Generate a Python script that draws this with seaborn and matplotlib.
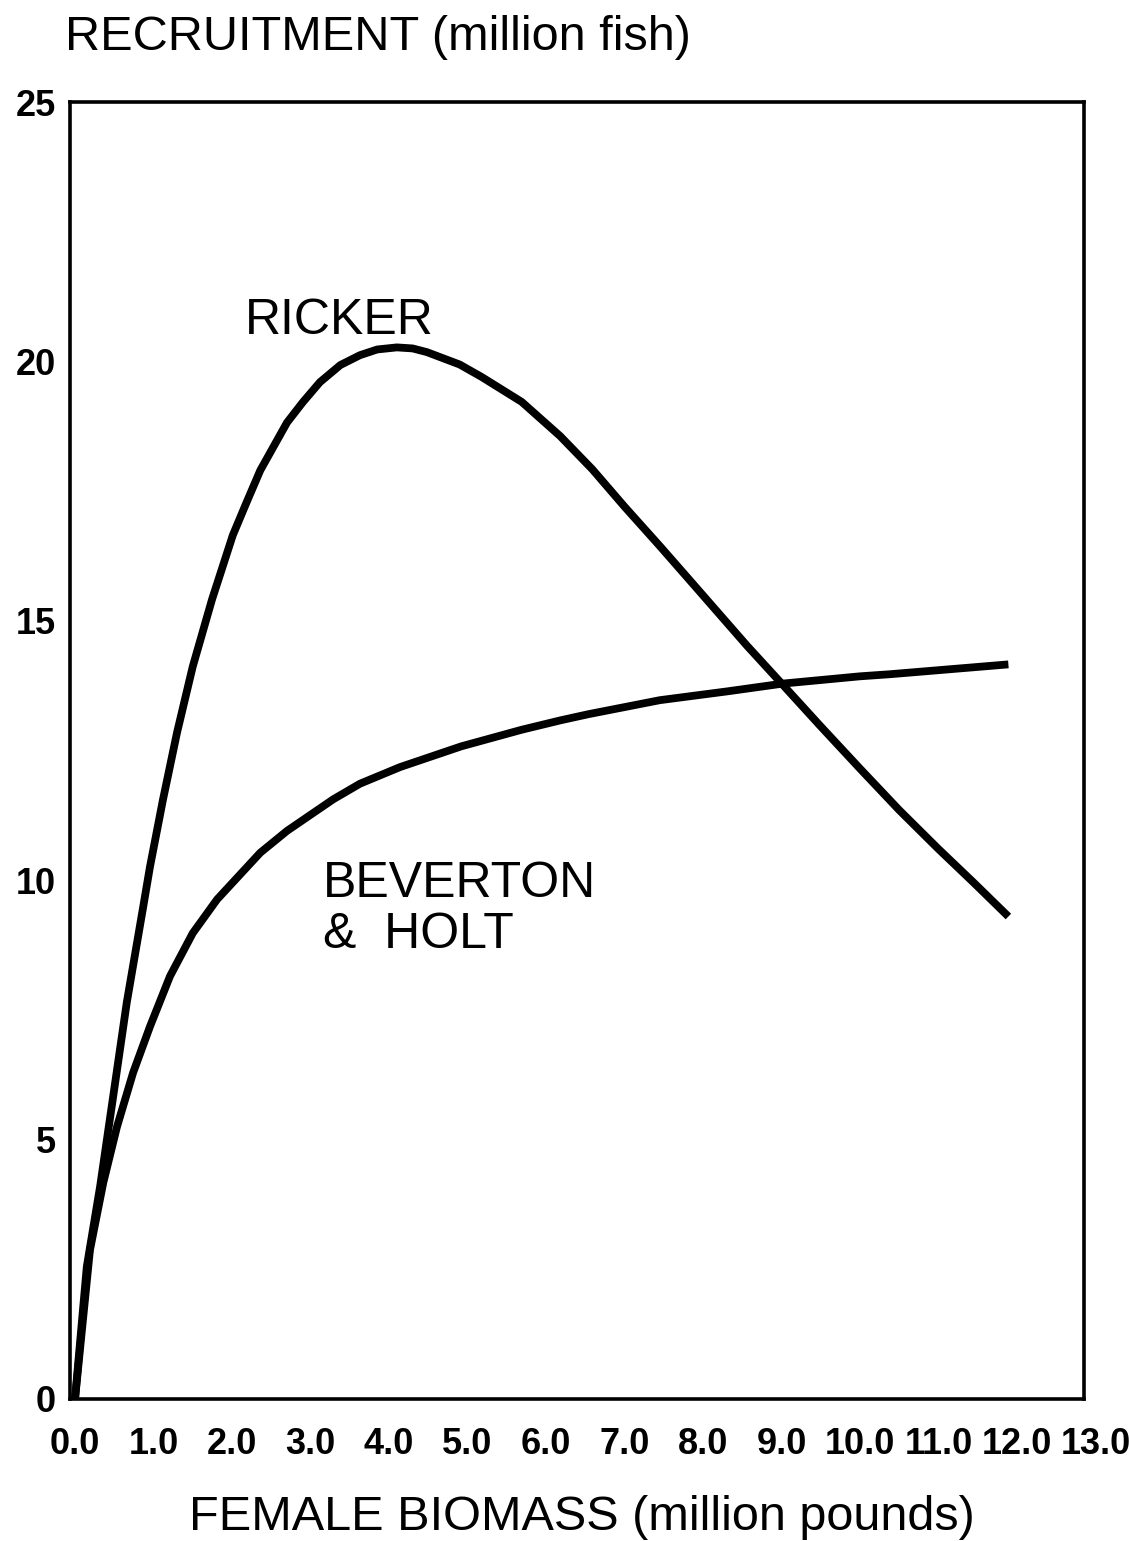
import matplotlib
matplotlib.use("Agg")
import matplotlib.pyplot as plt
import matplotlib.transforms as mtransforms
import seaborn as sns
import pandas as pd

# ---- data ----
ricker_x = [0.00, 0.15, 0.32, 0.48, 0.66, 0.87, 0.955, 1.12, 1.30, 1.50, 1.745, 2.01,
            2.19, 2.36, 2.70, 2.90, 3.12, 3.38, 3.63, 3.85, 4.10, 4.30, 4.48, 4.90,
            5.18, 5.69, 6.18, 6.59, 7.00, 7.45, 7.89, 8.30, 8.56, 9.02, 9.49, 10.00,
            10.50, 11.00, 11.45, 11.89]
ricker_y = [0.00, 2.55, 4.10, 5.77, 7.65, 9.50, 10.26, 11.55, 12.85, 14.12, 15.41, 16.65,
            17.30, 17.90, 18.82, 19.21, 19.60, 19.93, 20.12, 20.23, 20.27, 20.25, 20.18, 19.94,
            19.70, 19.22, 18.56, 17.92, 17.20, 16.44, 15.68, 14.97, 14.52, 13.76, 12.98, 12.15,
            11.35, 10.60, 9.95, 9.30]

bh_x = [0.00, 0.19, 0.36, 0.535, 0.74, 0.955, 1.21, 1.50, 1.81, 2.36, 2.70, 2.99,
        3.29, 3.63, 4.14, 4.92, 5.69, 6.18, 6.54, 7.45, 8.31, 9.02, 10.00, 10.38, 11.89]
bh_y = [0.00, 2.87, 4.17, 5.25, 6.29, 7.18, 8.15, 8.98, 9.63, 10.53, 10.95, 11.25,
        11.56, 11.86, 12.18, 12.58, 12.90, 13.08, 13.20, 13.47, 13.64, 13.79, 13.93, 13.97, 14.16]

x_ticks = [0, 1, 2, 3, 4, 5, 6, 7, 8, 9, 10, 11, 12]
x_ticklabels = ["0.0", "1.0", "2.0", "3.0", "4.0", "5.0", "6.0", "7.0", "8.0",
                "9.0", "10.0", "11.0", "12.0"]
x_extra_tick = 13
x_extra_label = "13.0"
y_ticks = [0, 5, 10, 15, 20, 25]
y_ticklabels = ["0", "5", "10", "15", "20", "25"]

x_label = "FEMALE BIOMASS (million pounds)"
y_label = "RECRUITMENT (million fish)"
ricker_label = "RICKER"
bh_label = "BEVERTON\n&  HOLT"

# ---- styling ----
sns.set_style("white")
plt.rcParams["font.family"] = ["Liberation Sans", "DejaVu Sans"]
plt.rcParams["text.color"] = "black"
plt.rcParams["axes.labelcolor"] = "black"
plt.rcParams["xtick.color"] = "black"
plt.rcParams["ytick.color"] = "black"

W, H = 1129, 1541
fig = plt.figure(figsize=(W / 100, H / 100), dpi=100)
L, R, T, B = 70, 1084, 102, 1399
ax = fig.add_axes([L / W, 1 - B / H, (R - L) / W, (B - T) / H])

df = pd.concat([
    pd.DataFrame({"S": ricker_x, "R": ricker_y, "model": "Ricker"}),
    pd.DataFrame({"S": bh_x, "R": bh_y, "model": "BH"}),
])
sns.lineplot(data=df, x="S", y="R", hue="model", sort=False, estimator=None,
             palette={"Ricker": "black", "BH": "black"}, linewidth=5.6,
             legend=False, ax=ax)
for ln in ax.lines:
    ln.set_solid_capstyle("butt")
    ln.set_solid_joinstyle("round")

x0 = -0.064
xpx = 78.5
ax.set_xlim(x0, x0 + (R - L) / xpx)
ax.set_ylim(0, 25)

tick_fs = 26
ax.set_xticks(x_ticks)
ax.set_xticklabels(x_ticklabels, fontsize=tick_fs, fontweight="bold")
ax.set_yticks(y_ticks)
ax.set_yticklabels(y_ticklabels, fontsize=tick_fs, fontweight="bold")
xpad = 20
ax.tick_params(axis="x", length=0, pad=xpad)
ax.tick_params(axis="y", length=0, pad=10)
extra_tr = mtransforms.offset_copy(ax.get_xaxis_transform(), fig=fig,
                                   x=0, y=-xpad, units="points")
ax.text(x_extra_tick, 0, x_extra_label, transform=extra_tr,
        fontsize=tick_fs, fontweight="bold", ha="center", va="top",
        clip_on=False)

for sp in ax.spines.values():
    sp.set_visible(True)
    sp.set_color("black")
    sp.set_linewidth(2.6)

ax.set_xlabel(x_label, fontsize=35)
ax.xaxis.set_label_coords((582 - L) / (R - L), (B - 1517) / (B - T))
ax.xaxis.label.set_va("center")
ax.set_ylabel(y_label, fontsize=35, rotation=0)
ax.yaxis.set_label_coords((65 - L) / (R - L), (B - 38) / (B - T))
ax.yaxis.label.set_ha("left")
ax.yaxis.label.set_va("center")

ax.text(2.17, 20.78, ricker_label, fontsize=36, ha="left", va="center")
ax.text(3.16, 9.43, bh_label, fontsize=36, ha="left", va="center",
        linespacing=1.15)

fig.savefig("out.png", dpi=100)
